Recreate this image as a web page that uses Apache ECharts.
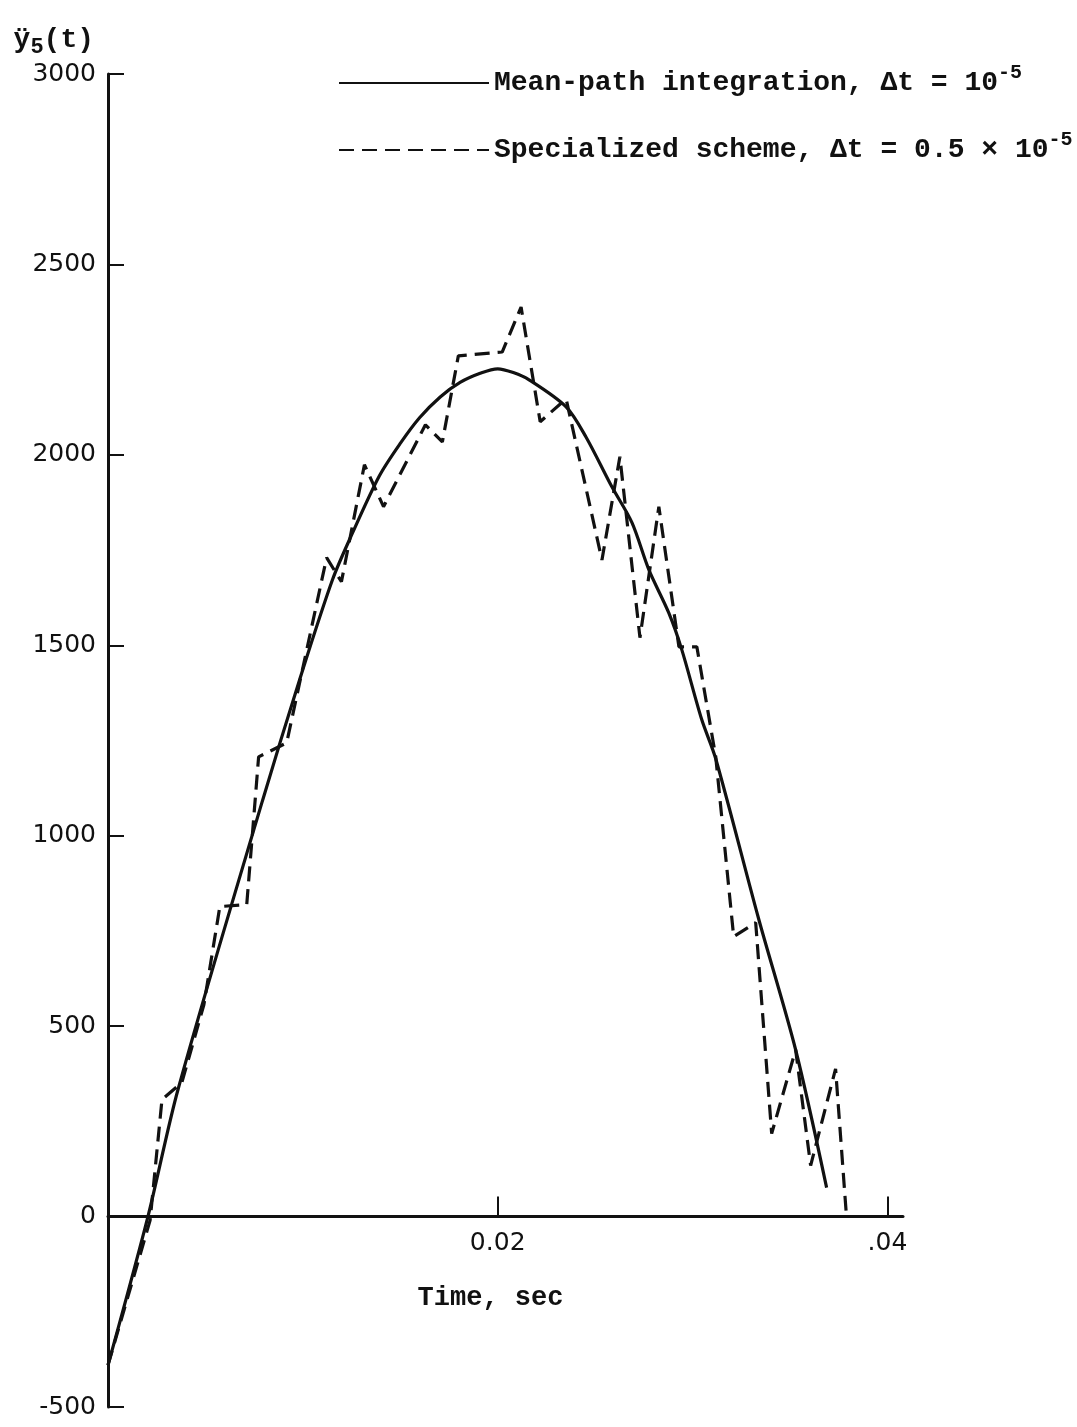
<!DOCTYPE html>
<html>
<head>
<meta charset="utf-8">
<script src="https://cdn.jsdelivr.net/npm/echarts@6/dist/echarts.min.js"></script>
<style>
html,body{margin:0;padding:0;background:#fff;}
#chart{width:1077px;height:1427px;}
</style>
</head>
<body>
<div id="chart"></div>
<script>
// Mean-path integration (solid) — time in seconds, acceleration values
const solidT = [0, 0.00205, 0.00359, 0.00794, 0.00983, 0.01152, 0.01255, 0.01393, 0.0150, 0.0160, 0.01705, 0.01807, 0.0191, 0.0200, 0.0208, 0.02161, 0.02351, 0.02453, 0.02586, 0.02689, 0.02776, 0.02878, 0.02945, 0.03047, 0.03119, 0.03339, 0.03529, 0.03688];
const solidY = [-390, 0, 333, 1094, 1409, 1672, 1795, 1945, 2030, 2098, 2152, 2190, 2214, 2226, 2216, 2197, 2126, 2047, 1916, 1822, 1698, 1585, 1488, 1305, 1202, 782, 438, 76];

// Specialized scheme (dashed)
const dashT = [0, 0.00216, 0.00277, 0.00379, 0.00492, 0.00574, 0.00712, 0.00773, 0.00917, 0.01122, 0.01198, 0.01316, 0.01414, 0.01629, 0.01716, 0.01798, 0.02023, 0.0212, 0.02218, 0.02351, 0.02535, 0.02627, 0.0273, 0.02827, 0.0293, 0.03022, 0.03119, 0.03211, 0.03324, 0.03406, 0.03529, 0.03606, 0.03734, 0.0379];
const dashY = [-390, -10, 307, 352, 556, 814, 819, 1207, 1244, 1730, 1667, 1974, 1864, 2079, 2034, 2260, 2270, 2388, 2087, 2147, 1724, 1995, 1520, 1864, 1496, 1496, 1207, 735, 772, 218, 438, 134, 388, 0];

const seriesNames = ['Mean-path integration, \u0394t = 10^-5', 'Specialized scheme, \u0394t = 0.5 \u00d7 10^-5'];
const xTickLabels = {'0.02': '0.02', '0.04': '.04'};
const yMin = -500, yMax = 3000, yStep = 500;
const xMin = 0, xMax = 0.0408, xStep = 0.02;
const yAxisName = '\u00ff{sub|5}(t)';
const xAxisName = 'Time, sec';

const zip = (a, b) => a.map((v, i) => [v, b[i]]);
const mono = 'Liberation Mono';
const gridH = 1333;
// place the x axis where y = 0 falls inside the grid
const xAxisOffset = -gridH * (0 - yMin) / (yMax - yMin);

const legendText = {
  fontFamily: mono, fontWeight: 'bold', fontSize: 28, color: '#111', lineHeight: 40,
  rich: { sup: { fontFamily: mono, fontWeight: 'bold', fontSize: 20, color: '#111', verticalAlign: 'top', lineHeight: 20 } }
};
const legendFmt = name => name.replace(/10\^(-?\d+)/, '10{sup|$1}');
const legendCommon = {
  left: 333, itemWidth: 150, itemHeight: 14, selectedMode: false,
  textStyle: legendText, formatter: legendFmt,
  itemStyle: { color: 'rgba(0,0,0,0)', borderWidth: 0, opacity: 0 }
};

const chart = echarts.init(document.getElementById('chart'));
chart.setOption({
  backgroundColor: '#ffffff',
  animation: false,
  grid: { left: 108, top: 74, width: 795, height: gridH, outerBoundsMode: 'none' },
  legend: [
    Object.assign({ data: [seriesNames[0]], top: 58 }, legendCommon),
    Object.assign({ data: [seriesNames[1]], top: 125 }, legendCommon)
  ],
  xAxis: {
    type: 'value', min: xMin, max: xMax, interval: xStep,
    position: 'bottom', offset: xAxisOffset,
    name: xAxisName, nameLocation: 'middle', nameGap: 68,
    nameTextStyle: { fontFamily: mono, fontWeight: 'bold', fontSize: 27, color: '#111', padding: [0, 30, 0, 0] },
    axisLine: { onZero: false, lineStyle: { color: '#111', width: 3 } },
    axisTick: { inside: true, length: 20, lineStyle: { color: '#111', width: 2 } },
    axisLabel: {
      margin: 14, fontFamily: 'DejaVu Sans', fontSize: 25, color: '#111',
      formatter: v => { const k = v.toFixed(2); return xTickLabels[k] || ''; }
    },
    splitLine: { show: false }
  },
  yAxis: {
    type: 'value', min: yMin, max: yMax, interval: yStep,
    name: yAxisName, nameLocation: 'end', nameGap: 16,
    nameTextStyle: {
      fontFamily: mono, fontWeight: 'bold', fontSize: 28, color: '#111', align: 'right', lineHeight: 36,
      padding: [0, 14, 0, 0],
      rich: { sub: { fontFamily: mono, fontWeight: 'bold', fontSize: 22, color: '#111', verticalAlign: 'bottom', lineHeight: 22 } }
    },
    axisLine: { show: true, onZero: false, lineStyle: { color: '#111', width: 3 } },
    axisTick: { show: true, inside: true, length: 16, lineStyle: { color: '#111', width: 2 } },
    axisLabel: { margin: 12, fontFamily: 'DejaVu Sans', fontSize: 25, color: '#111', formatter: v => String(v) },
    splitLine: { show: false }
  },
  series: [
    {
      name: seriesNames[0], type: 'line', data: zip(solidT, solidY),
      symbol: 'none', smooth: 0.3,
      lineStyle: { color: '#111', width: 3.2, type: 'solid' },
      itemStyle: { color: '#111' }
    },
    {
      name: seriesNames[1], type: 'line', data: zip(dashT, dashY),
      symbol: 'none', smooth: false,
      lineStyle: { color: '#111', width: 3.2, type: [15, 8] },
      itemStyle: { color: '#111' }
    }
  ]
});
</script>
</body>
</html>
